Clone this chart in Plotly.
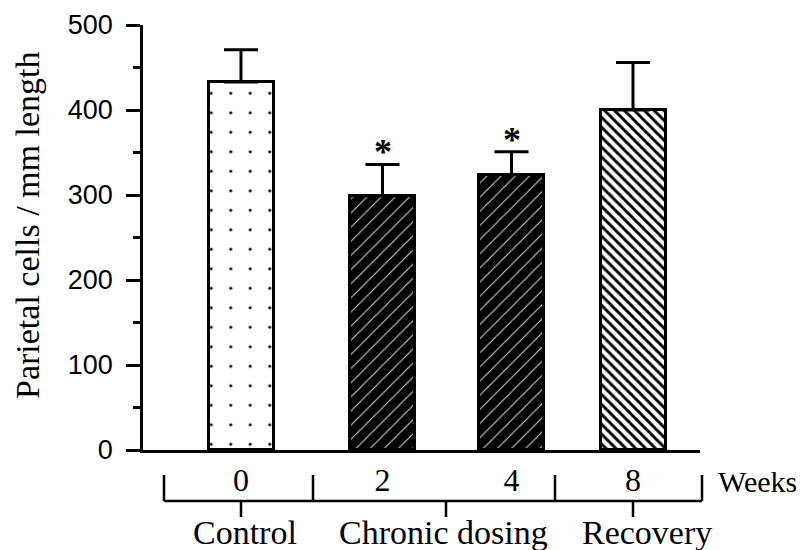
import plotly.graph_objects as go

# ---- data ----
weeks = ["0", "2", "4", "8"]
means = [433, 299, 324, 400]
sem_upper = [38, 37, 27, 56]
significant = [False, True, True, False]
groups = ["Control", "Chronic dosing", "Recovery"]
y_title = "Parietal cells / mm length"
x_unit = "Weeks"

# ---- layout / style constants ----
OFF = 8                      # browser default body margin
W, H = 804 - OFF, 550 - OFF
ML, MR, MT, MB = 143 - OFF, 104, 25 - OFF, 100
PW = W - ML - MR
PH = H - MT - MB
bar_pos = [98, 239.5, 368.5, 490]      # slot centres along the x axis
bar_width = 65
SERIF = "Liberation Serif, Times New Roman, serif"
SANS = "Liberation Sans, Arial, Helvetica, sans-serif"

patterns = [
    dict(shape=".", bgcolor="white", fgcolor="black", size=19.5, solidity=0.02, fillmode="replace"),
    dict(shape="/", bgcolor="black", fgcolor="#d8d8d8", size=10, solidity=0.1, fillmode="replace"),
    dict(shape="/", bgcolor="black", fgcolor="#d8d8d8", size=10, solidity=0.1, fillmode="replace"),
    dict(shape="\\", bgcolor="white", fgcolor="black", size=7, solidity=0.42, fillmode="replace"),
]


def px2x(px):
    return (px - OFF - ML) / PW


def py2y(py):
    return (MT + PH - (py - OFF)) / PH


fig = go.Figure()
for i in range(len(weeks)):
    fig.add_trace(go.Bar(
        x=[bar_pos[i]], y=[means[i]], width=bar_width,
        marker=dict(color="white", pattern=patterns[i], line=dict(color="black", width=3)),
        error_y=dict(type="data", symmetric=False, array=[sem_upper[i]], arrayminus=[0],
                     color="black", thickness=3, width=17),
        showlegend=False, hoverinfo="skip",
    ))

annotations = []
for i in range(len(weeks)):
    if significant[i]:
        annotations.append(dict(
            x=bar_pos[i], y=means[i] + sem_upper[i], xref="x", yref="y",
            text="<b>*</b>", showarrow=False, yanchor="middle", yshift=12,
            font=dict(family=SERIF, size=36, color="black"),
        ))

# y-axis title
annotations.append(dict(
    x=px2x(28), y=py2y(226), xref="paper", yref="paper", text=y_title, showarrow=False,
    textangle=-90, xanchor="center", yanchor="middle",
    font=dict(family=SERIF, size=34, color="black"),
))

# group labels under the bracket
group_px = [245, 443, 647]
for g, gx in zip(groups, group_px):
    annotations.append(dict(
        x=px2x(gx), y=py2y(532), xref="paper", yref="paper", text=g, showarrow=False,
        xanchor="center", yanchor="middle", font=dict(family=SERIF, size=34, color="black"),
    ))
annotations.append(dict(
    x=px2x(716), y=py2y(481), xref="paper", yref="paper", text=x_unit, showarrow=False,
    xanchor="left", yanchor="middle", font=dict(family=SERIF, size=30, color="black"),
))

# bracket
shapes = []
line_style = dict(color="black", width=2.5)
shapes.append(dict(type="line", xref="paper", yref="paper", x0=px2x(164), x1=px2x(702),
                   y0=py2y(501), y1=py2y(501), line=line_style))
for ux in [164, 313, 555, 702]:
    shapes.append(dict(type="line", xref="paper", yref="paper", x0=px2x(ux), x1=px2x(ux),
                       y0=py2y(475), y1=py2y(501), line=line_style))
for dx in [241, 446, 633]:
    shapes.append(dict(type="line", xref="paper", yref="paper", x0=px2x(dx), x1=px2x(dx),
                       y0=py2y(501), y1=py2y(517), line=line_style))

fig.update_layout(
    template="none",
    width=W, height=H,
    margin=dict(l=ML, r=MR, t=MT, b=MB, pad=0),
    plot_bgcolor="white", paper_bgcolor="white",
    bargap=0, barmode="overlay", showlegend=False,
    annotations=annotations, shapes=shapes,
    xaxis=dict(
        automargin=False,
        range=[0, PW], showgrid=False, zeroline=False,
        showline=True, linecolor="black", linewidth=2.5,
        tickmode="array", tickvals=bar_pos, ticktext=weeks,
        ticks="", ticklabelstandoff=0,
        tickfont=dict(family=SERIF, size=32, color="black"),
        fixedrange=True,
    ),
    yaxis=dict(
        automargin=False,
        range=[0, 500], showgrid=False, zeroline=False,
        showline=True, linecolor="black", linewidth=2.5,
        tickmode="linear", tick0=0, dtick=100,
        ticks="outside", ticklen=14, tickwidth=2.5, tickcolor="black",
        ticklabelstandoff=8,
        tickfont=dict(family=SANS, size=27, color="black"),
        minor=dict(ticks="outside", ticklen=7, tickwidth=2.5, tickcolor="black", dtick=50, showgrid=False),
        fixedrange=True,
    ),
)

fig.write_html("out.html")
